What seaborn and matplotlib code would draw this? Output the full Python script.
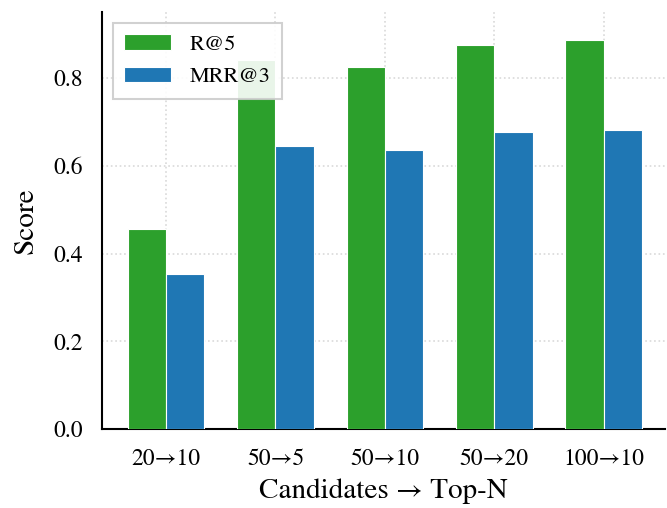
import pandas as pd
import numpy as np
import matplotlib
matplotlib.use("Agg")
import matplotlib.pyplot as plt
import seaborn as sns

# data
settings = ["20→10", "50→5", "50→10", "50→20", "100→10"]
recall_at_5 = [0.457, 0.840, 0.825, 0.876, 0.887]
mrr_at_3 = [0.353, 0.645, 0.636, 0.677, 0.681]

df = pd.DataFrame({
    "setting": settings * 2,
    "score": recall_at_5 + mrr_at_3,
    "metric": ["R@5"] * len(settings) + ["MRR@3"] * len(settings),
})

sns.set_style("white")
# STIXGeneral ships with matplotlib: Times-like, with a proper long arrow
plt.rcParams["font.family"] = ["STIXGeneral", "Liberation Serif", "DejaVu Serif"]
plt.rcParams["text.color"] = "black"
plt.rcParams["axes.labelcolor"] = "black"

fig, ax = plt.subplots(figsize=(6.67, 5.08), dpi=100)
fig.subplots_adjust(left=0.153, right=0.997, bottom=0.155, top=0.976)

sns.barplot(
    data=df, x="setting", y="score", hue="metric",
    palette={"R@5": "#2ca02c", "MRR@3": "#1f77b4"},
    width=0.7, gap=0, edgecolor="white", linewidth=0.8,
    saturation=1, ax=ax, zorder=3,
)

ax.set_ylim(0, 0.95)
ax.set_xlim(-0.585, 4.56)
ax.set_yticks(np.arange(0, 0.81, 0.2))
ax.set_yticklabels([f"{v:.1f}" for v in np.arange(0, 0.81, 0.2)])
ax.grid(True, linestyle=":", linewidth=1.2, color="#d9d9d9", zorder=0)
ax.set_axisbelow(True)

sns.despine(ax=ax)
for s in ["left", "bottom"]:
    ax.spines[s].set_linewidth(1.5)
    ax.spines[s].set_color("black")
ax.tick_params(axis="both", direction="out", length=7, width=1.5, labelsize=17,
               pad=7, colors="black")

ax.set_xlabel("Candidates → Top-N", fontsize=21, labelpad=6)
ax.set_ylabel("Score", fontsize=21, labelpad=10)

leg = ax.legend(loc="upper left", fontsize=16, frameon=True, fancybox=False,
                handlelength=2.1, handleheight=0.7, borderpad=0.5, labelspacing=0.55,
                handletextpad=0.85, borderaxespad=0, bbox_to_anchor=(0.0195, 0.974))
leg.get_frame().set_edgecolor("#cccccc")
leg.get_frame().set_linewidth(1.5)
leg.get_frame().set_alpha(0.9)

plt.savefig("out.png", dpi=100)
